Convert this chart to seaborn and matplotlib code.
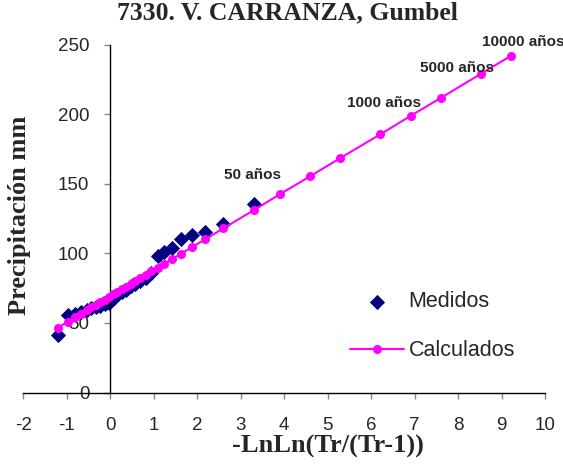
import matplotlib
matplotlib.use("Agg")
import matplotlib.pyplot as plt
import seaborn as sns
import pandas as pd

# Measured (Weibull plotting positions) and values
x_medidos = [-1.2036, -0.9704, -0.8037, -0.6657, -0.5440, -0.4321, -0.3266, -0.2254,
             -0.1266, -0.0292, 0.0680, 0.1657, 0.2649, 0.3665, 0.4713, 0.5805,
             0.6951, 0.8168, 0.9473, 1.0892, 1.2459, 1.4222, 1.6260, 1.8698,
             2.1776, 2.6022, 3.3141]
y_medidos = [41.5, 55.5, 56.5, 58.0, 59.5, 60.5, 61.5, 62.5, 63.5, 64.5, 67.0, 70.0,
             72.5, 74.0, 76.5, 78.0, 80.0, 82.5, 86.0, 98.0, 101.0, 104.0, 110.0,
             113.5, 115.5, 121.0, 135.5]

# Calculated (Gumbel) values
x_calc = [-1.2036, -0.9704, -0.8037, -0.6657, -0.5440, -0.4321, -0.3266, -0.2254,
          -0.1266, -0.0292, 0.0680, 0.1657, 0.2649, 0.3665, 0.4713, 0.5805,
          0.6951, 0.8168, 0.9473, 1.0892, 1.2459, 1.4222, 1.6260, 1.8698,
          2.1776, 2.6022, 3.3141, 3.9019, 4.6001, 5.2958, 6.2136, 6.9073,
          7.6006, 8.5171, 9.2103]
y_calc = [46.6, 51.0, 54.1, 56.7, 59.0, 61.1, 63.1, 65.0, 66.8, 68.7, 70.5, 72.3,
          74.2, 76.1, 78.0, 80.1, 82.2, 84.5, 87.0, 89.6, 92.6, 95.9, 99.7, 104.3,
          110.0, 118.0, 131.3, 142.5, 155.5, 168.6, 185.6, 198.8, 211.7, 228.9, 241.9]

etiquetas = ["50 años", "1000 años", "5000 años", "10000 años"]
etiqueta_x = [3.9019, 6.9073, 8.5171, 9.2103]
etiqueta_y = [142.5, 198.8, 228.9, 241.9]
etiqueta_off = [(-20, 14), (-19, 9), (-17, 4), (9, 10)]

x_ticks = list(range(-2, 11))
y_ticks = [0, 50, 100, 150, 200, 250]

sns.set_style("white")
plt.rcParams['font.family'] = ['Liberation Sans', 'DejaVu Sans']
plt.rcParams['axes.unicode_minus'] = False

fig = plt.figure(figsize=(5.63, 4.67), dpi=100)
ax = fig.add_axes([23.3/563, 1-392.5/467, (545-23.3)/563, (392.5-44.7)/467])

df_m = pd.DataFrame({"x": x_medidos, "y": y_medidos})
df_c = pd.DataFrame({"x": x_calc, "y": y_calc})

sns.lineplot(data=df_c, x="x", y="y", ax=ax, color="#FF00FF", marker="o",
             markersize=6.5, markeredgewidth=0, linewidth=1.5, label="Calculados",
             clip_on=False, zorder=3)
sns.scatterplot(data=df_m, x="x", y="y", ax=ax, color="#000080", marker="D",
                s=60, edgecolor="#000080", linewidth=0, label="Medidos",
                clip_on=False, zorder=2)

for t, xx, yy, off in zip(etiquetas, etiqueta_x, etiqueta_y, etiqueta_off):
    ax.annotate(t, xy=(xx, yy), xytext=off, textcoords="offset points",
                ha="center", va="center", fontsize=11, fontweight="bold",
                family=["Liberation Sans"])

ax.set_xlim(-2, 10)
ax.set_ylim(0, 250)
ax.set_xticks(x_ticks)
ax.set_yticks(y_ticks)
ax.spines['left'].set_position(('data', 0))
ax.spines['right'].set_visible(False)
ax.spines['top'].set_visible(False)
for s in ['left', 'bottom']:
    ax.spines[s].set_color('black')
    ax.spines[s].set_linewidth(1.0)
ax.tick_params(axis='both', direction='out', length=4, width=1, color='#888888',
               labelsize=13.5, bottom=True, left=True)
ax.tick_params(axis='x', pad=14)
ax.tick_params(axis='y', pad=11)

ax.set_xlabel("")
ax.set_ylabel("")
serif = ["Liberation Serif", "DejaVu Serif"]
fig.text(0.583, 0.043, "-LnLn(Tr/(Tr-1))", ha="center", va="center", fontsize=19,
         fontweight="bold", family=serif)
fig.text(0.034, 0.54, "Precipitación mm", ha="center", va="center", rotation=90,
         fontsize=19, fontweight="bold", family=serif)
fig.text(0.51, 0.972, "7330. V. CARRANZA, Gumbel", ha="center", va="center",
         fontsize=18.5, fontweight="bold", family=serif)

h, l = ax.get_legend_handles_labels()
order = [l.index("Medidos"), l.index("Calculados")]
ax.legend([h[i] for i in order], [l[i] for i in order], frameon=False,
          loc="center left", bbox_to_anchor=(0.59, 0.19), fontsize=15.5,
          handlelength=2.5, handletextpad=0.2, labelspacing=1.3)

fig.savefig("out.png", dpi=100)
